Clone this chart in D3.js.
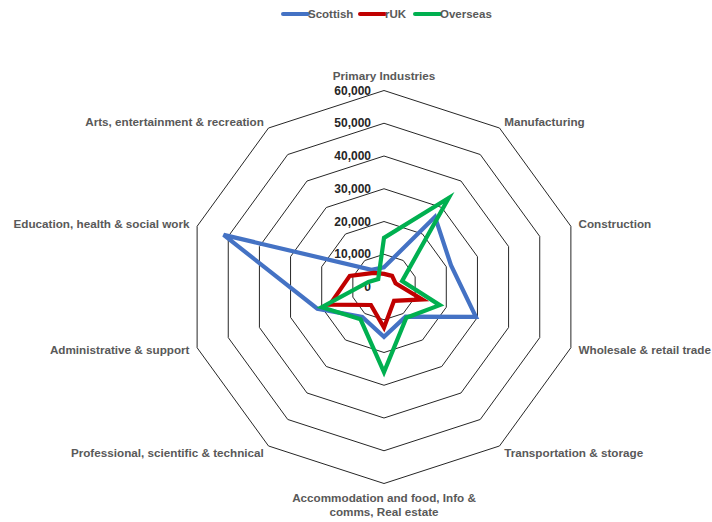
<!DOCTYPE html>
<html lang="en">
<head>
<meta charset="utf-8">
<title>Radar</title>
<script src="https://cdnjs.cloudflare.com/ajax/libs/d3/7.8.5/d3.min.js"></script>
<style>
  body { margin: 0; background: #fff; }
  svg text { font-family: "Liberation Sans", Arial, sans-serif; font-weight: bold; }
</style>
</head>
<body>
<div id="chart"></div>
<script>
// categories, clockwise from the top
var categories = ["Primary Industries", "Manufacturing", "Construction", "Wholesale & retail trade",
  "Transportation & storage", "Accommodation and food, Info &\ncomms, Real estate",
  "Professional, scientific & technical", "Administrative & support",
  "Education, health & social work", "Arts, entertainment & recreation"];
var seriesNames = ["Scottish", "rUK", "Overseas"];
var seriesColors = ["#4472C4", "#C00000", "#00B050"];
var scottish = [6000, 26500, 21500, 29500, 11200, 15200, 11300, 21400, 51500, 6500];
var rUK = [4000, 4200, 3700, 12300, 5200, 12400, 6800, 17400, 11000, 5300];
var overseas = [15000, 33600, 5800, 17900, 11600, 26000, 12200, 20000, 5000, 3000];
var ticks = [0, 10000, 20000, 30000, 40000, 50000, 60000];

var width = 712, height = 522;
var cx = 384, cy = 287, R = 196.5;
var n = categories.length;

var svg = d3.select("#chart").append("svg")
  .attr("width", width).attr("height", height);

var r = d3.scaleLinear().domain([0, 60000]).range([0, R]);
var angle = function(i) { return i * 2 * Math.PI / n; };

var g = svg.append("g").attr("transform", "translate(" + cx + "," + cy + ")");

// grid rings
var ring = d3.lineRadial()
  .angle(function(d, i) { return angle(i); })
  .radius(function(d) { return r(d); })
  .curve(d3.curveLinearClosed);

g.selectAll(".ring")
  .data(ticks.slice(1))
  .enter().append("path")
  .attr("d", function(t) { return ring(d3.range(n).map(function() { return t; })); })
  .attr("fill", "none")
  .attr("stroke", "#262626")
  .attr("stroke-width", 1);

// tick labels
g.selectAll(".tick")
  .data(ticks)
  .enter().append("text")
  .attr("x", -13)
  .attr("y", function(t) { return -r(t); })
  .attr("dy", "0.35em")
  .attr("text-anchor", "end")
  .attr("font-size", 12)
  .attr("fill", "#262626")
  .text(function(t) { return d3.format(",")(t); });

// category labels
categories.forEach(function(c, i) {
  var a = angle(i), s = Math.sin(a), co = -Math.cos(a);
  var anchor = s > 0.1 ? "start" : (s < -0.1 ? "end" : "middle");
  var lines = c.split("\n");
  var x, y;
  if (anchor === "middle") {
    if (co < 0) { x = 0; y = -(R + 15); }
    else { x = 0; y = R + 14; }
  } else {
    x = s * (R + 8);
    y = co * (R + 8);
  }
  var t = g.append("text")
    .attr("text-anchor", anchor)
    .attr("font-size", 11.7)
    .attr("fill", "#595959");
  lines.forEach(function(l, k) {
    t.append("tspan")
      .attr("x", x)
      .attr("y", y + k * 14)
      .attr("dy", "0.35em")
      .text(l);
  });
});

// series
var line = d3.lineRadial()
  .angle(function(d, i) { return angle(i); })
  .radius(function(d) { return r(d); })
  .curve(d3.curveLinearClosed);

[scottish, rUK, overseas].forEach(function(vals, k) {
  g.append("path")
    .attr("d", line(vals))
    .attr("fill", "none")
    .attr("stroke", seriesColors[k])
    .attr("stroke-width", 4.2)
    .attr("stroke-linejoin", "miter");
});

// legend
var legendX = [283, 360, 415];
seriesNames.forEach(function(name, k) {
  var lg = svg.append("g").attr("transform", "translate(" + legendX[k] + ",14)");
  lg.append("line")
    .attr("x1", 0).attr("x2", 25)
    .attr("stroke", seriesColors[k])
    .attr("stroke-width", 4)
    .attr("stroke-linecap", "round");
  lg.append("text")
    .attr("x", 25)
    .attr("dy", "0.35em")
    .attr("font-size", 11.5)
    .attr("fill", "#595959")
    .text(name);
});
</script>
</body>
</html>
